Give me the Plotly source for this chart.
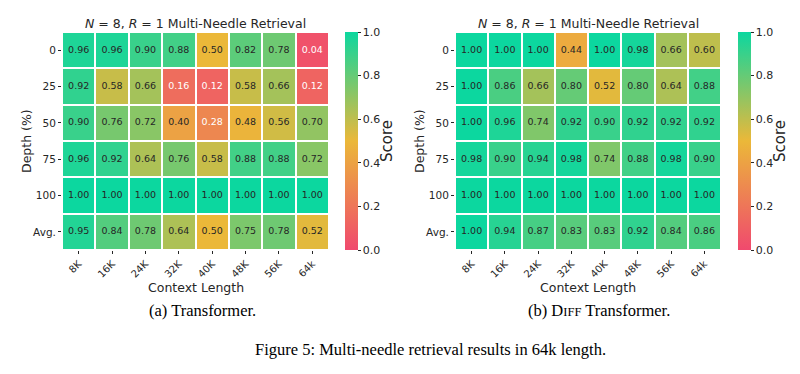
import plotly.graph_objects as go

ctx_labels = ["8K", "16K", "24K", "32K", "40K", "48K", "56K", "64k"]
depth_labels = ["0", "25", "50", "75", "100", "Avg."]

transformer_scores = [
    [0.96, 0.96, 0.90, 0.88, 0.50, 0.82, 0.78, 0.04],
    [0.92, 0.58, 0.66, 0.16, 0.12, 0.58, 0.66, 0.12],
    [0.90, 0.76, 0.72, 0.40, 0.28, 0.48, 0.56, 0.70],
    [0.96, 0.92, 0.64, 0.76, 0.58, 0.88, 0.88, 0.72],
    [1.00, 1.00, 1.00, 1.00, 1.00, 1.00, 1.00, 1.00],
    [0.95, 0.84, 0.78, 0.64, 0.50, 0.75, 0.78, 0.52],
]
diff_scores = [
    [1.00, 1.00, 1.00, 0.44, 1.00, 0.98, 0.66, 0.60],
    [1.00, 0.86, 0.66, 0.80, 0.52, 0.80, 0.64, 0.88],
    [1.00, 0.96, 0.74, 0.92, 0.90, 0.92, 0.92, 0.92],
    [0.98, 0.90, 0.94, 0.98, 0.74, 0.88, 0.98, 0.90],
    [1.00, 1.00, 1.00, 1.00, 1.00, 1.00, 1.00, 1.00],
    [1.00, 0.94, 0.87, 0.83, 0.83, 0.92, 0.84, 0.86],
]
cbar_ticks = [0.0, 0.2, 0.4, 0.6, 0.8, 1.0]

W, H = 800, 374
colorscale = [[0.0, "#F0496E"], [0.5, "#EBB839"], [1.0, "#0CD79F"]]
FONT = "DejaVu Sans"
SERIF = "Liberation Serif"

def px_x(p):
    return p / W

def px_y(p):
    return 1 - p / H

panels = [
    dict(scores=transformer_scores, x0=62, x1=329, cb=345, xa="x", ya="y"),
    dict(scores=diff_scores, x0=455, x1=721, cb=738, xa="x2", ya="y2"),
]
top, bottom = 32, 250

fig = go.Figure()
layout = dict(
    width=W, height=H, margin=dict(l=0, r=0, t=0, b=0, autoexpand=False),
    paper_bgcolor="white", plot_bgcolor="white",
    font=dict(family=FONT, color="#262626"), showlegend=False,
)
annotations = []
for i, p in enumerate(panels):
    sfx = "" if i == 0 else "2"
    fig.add_trace(go.Heatmap(
        z=p["scores"], x=ctx_labels, y=depth_labels,
        colorscale=colorscale, zmin=0, zmax=1, xgap=2, ygap=2,
        xaxis=p["xa"], yaxis=p["ya"], hoverinfo="skip",
        colorbar=dict(
            x=px_x(p["cb"]), xanchor="left", thickness=13, xpad=0, ypad=0,
            len=(bottom - top) / H, lenmode="fraction",
            y=px_y((top + bottom) / 2), yanchor="middle",
            outlinewidth=0, ticks="outside", ticklen=3, tickwidth=1,
            tickcolor="#262626", tickvals=cbar_ticks,
            ticktext=[f"{t:.1f}" for t in cbar_ticks],
            tickfont=dict(size=11, family=FONT, color="#262626"),
        ),
    ))
    xs, ys, txt, cols = [], [], [], []
    for r, row in enumerate(p["scores"]):
        for c, v in enumerate(row):
            xs.append(ctx_labels[c]); ys.append(depth_labels[r])
            txt.append(f"{v:.2f}")
            cols.append("white" if v < 0.3 else "#262626")
    fig.add_trace(go.Scatter(
        x=xs, y=ys, text=txt, mode="text", xaxis=p["xa"], yaxis=p["ya"],
        textfont=dict(size=9.5, family=FONT, color=cols), hoverinfo="skip",
    ))
    layout["xaxis" + sfx] = dict(
        domain=[px_x(p["x0"]), px_x(p["x1"])], anchor="y" + sfx,
        tickangle=-45, ticks="outside", ticklen=3, tickcolor="#262626",
        tickfont=dict(size=10, family=FONT, color="#262626"),
        showgrid=False, zeroline=False, showline=False,
    )
    layout["yaxis" + sfx] = dict(
        domain=[px_y(bottom), px_y(top)], anchor="x" + sfx,
        autorange="reversed", ticks="outside", ticklen=3, tickcolor="#262626",
        tickfont=dict(size=10.5, family=FONT, color="#262626"),
        showgrid=False, zeroline=False, showline=False,
    )
    annotations.append(dict(
        text="<i>N</i> = 8, <i>R</i> = 1 Multi-Needle Retrieval",
        x=px_x((p["x0"] + p["x1"]) / 2), y=px_y(23), xref="paper", yref="paper",
        showarrow=False, xanchor="center", yanchor="middle",
        font=dict(size=12.5, family=FONT, color="#262626"),
    ))
    annotations.append(dict(
        text="Context Length",
        x=px_x((p["x0"] + p["x1"]) / 2), y=px_y(287), xref="paper", yref="paper",
        showarrow=False, xanchor="center", yanchor="middle",
        font=dict(size=12.5, family=FONT, color="#262626"),
    ))
    annotations.append(dict(
        text="Depth (%)", textangle=-90,
        x=px_x(p["x0"] - 35), y=px_y((top + bottom) / 2), xref="paper", yref="paper",
        showarrow=False, xanchor="center", yanchor="middle",
        font=dict(size=12.5, family=FONT, color="#262626"),
    ))
    annotations.append(dict(
        text="Score", textangle=-90,
        x=px_x(p["cb"] + 42), y=px_y((top + bottom) / 2), xref="paper", yref="paper",
        showarrow=False, xanchor="center", yanchor="middle",
        font=dict(size=15, family=FONT, color="#262626"),
    ))

annotations.append(dict(text="(a) Transformer.", x=px_x(203), y=px_y(310),
    xref="paper", yref="paper", showarrow=False, xanchor="center", yanchor="middle",
    font=dict(size=16.5, family=SERIF, color="black")))
annotations.append(dict(text="(b) D<span style='font-size:12.5px'>IFF</span> Transformer.", x=px_x(599), y=px_y(310),
    xref="paper", yref="paper", showarrow=False, xanchor="center", yanchor="middle",
    font=dict(size=16.5, family=SERIF, color="black")))
annotations.append(dict(text="Figure 5: Multi-needle retrieval results in 64k length.", x=px_x(431), y=px_y(349),
    xref="paper", yref="paper", showarrow=False, xanchor="center", yanchor="middle",
    font=dict(size=16.5, family=SERIF, color="black")))
layout["annotations"] = annotations

fig.update_layout(**layout)
fig.write_html("out.html", config={"displayModeBar": False},
               post_script="document.body.style.margin='0';document.body.style.overflow='hidden';")
